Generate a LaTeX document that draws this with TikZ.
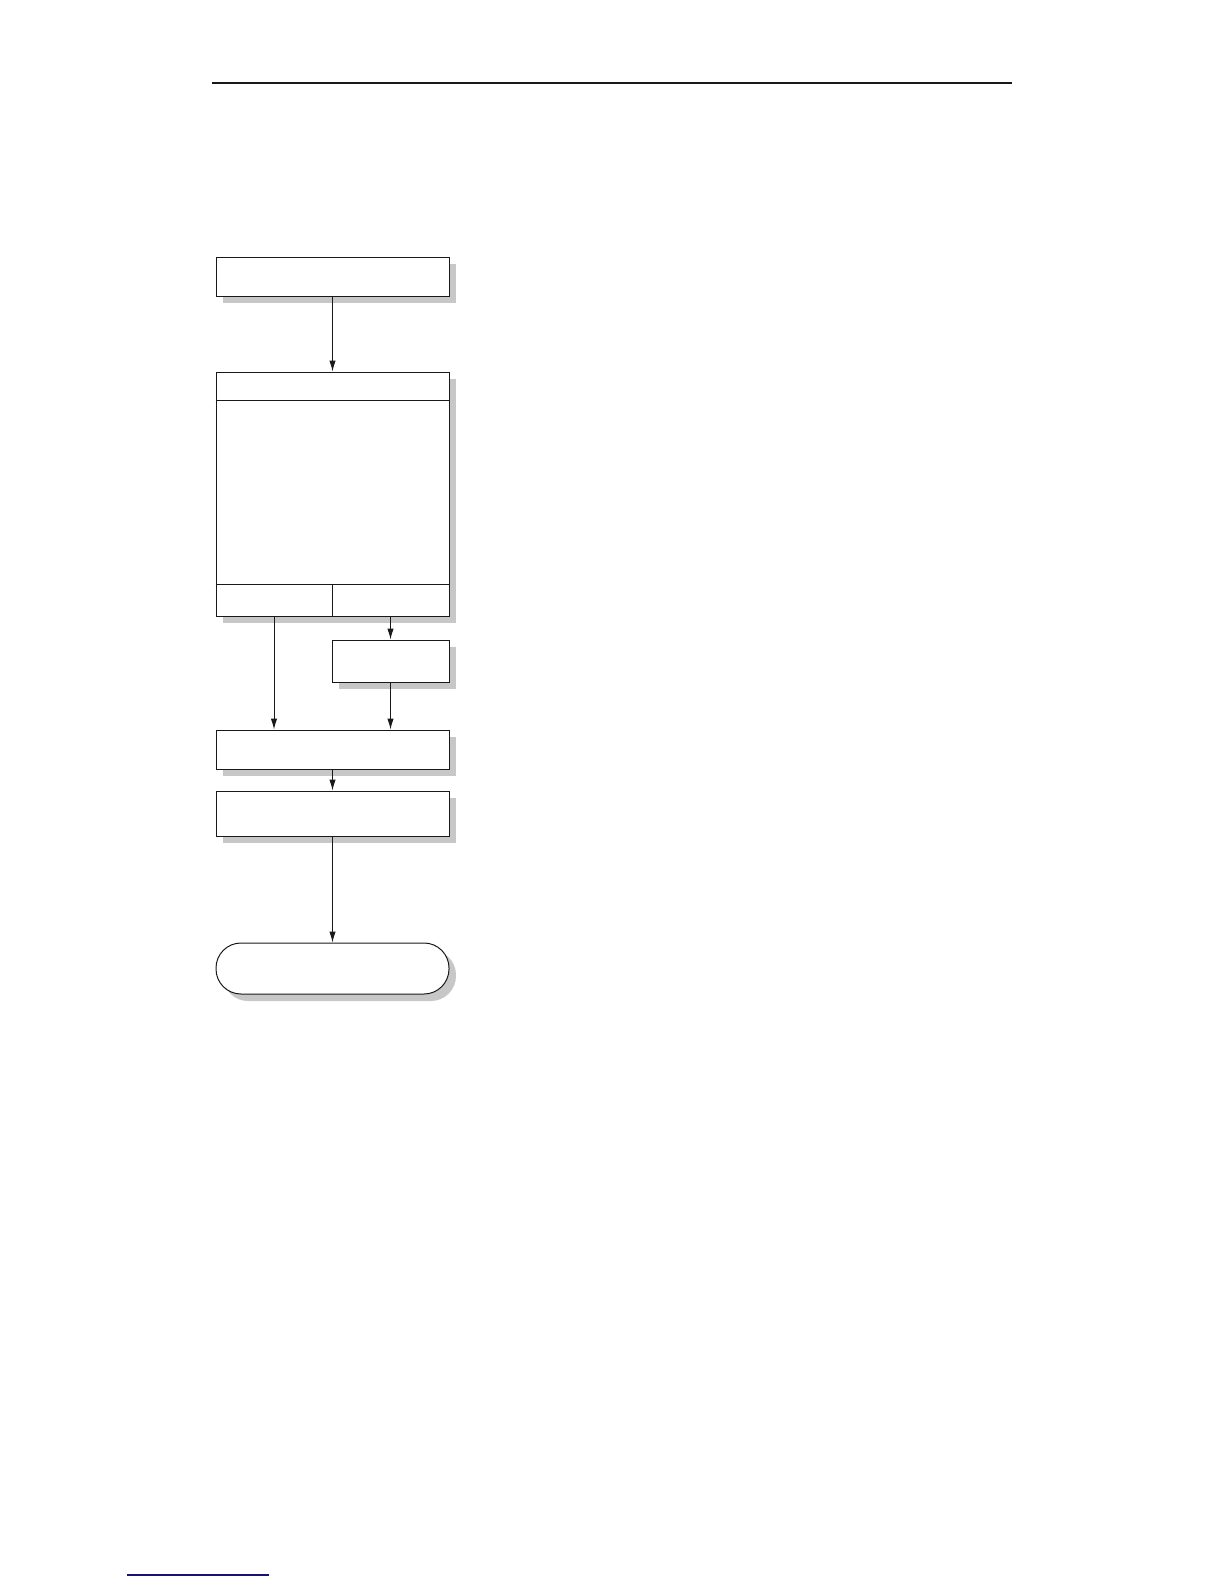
\documentclass[tikz,border=0pt]{standalone}
\usetikzlibrary{arrows.meta,shadows}
\begin{document}
\begin{tikzpicture}[x=1pt,y=-1pt,
  box/.style={draw=black!90, line width=1pt, fill=white, inner sep=0pt,
    drop shadow={shadow xshift=7pt, shadow yshift=-7pt, fill=black!22, opacity=1}},
  arr/.style={draw=black!90, line width=1pt, -{Latex[length=11pt,width=6.5pt]}},
  divider/.style={draw=black!90, line width=1pt},
  rule/.style={draw=black!90, line width=1.3pt}]
\useasboundingbox (0,0) rectangle (1224,1584);
% header rule
\coordinate (hl) at (212,83);
\coordinate (hr) at (1012,83);
\draw[rule] (hl) -- (hr);
% boxes
\node[box, minimum width=233pt, minimum height=39pt] (b1) at (332.5,276.5) {};
\node[box, minimum width=233pt, minimum height=244pt] (b2) at (332.5,494) {};
\node[box, minimum width=117pt, minimum height=42pt] (b3) at (390.5,661) {};
\node[box, minimum width=233pt, minimum height=39pt] (b4) at (332.5,749.5) {};
\node[box, minimum width=233pt, minimum height=45pt] (b5) at (332.5,813.5) {};
\node[box, minimum width=233pt, minimum height=51pt, rounded corners=25pt] (t) at (332.5,968.5) {};
% internal lines of b2
\coordinate (r1) at (0,400);
\coordinate (r2) at (0,584);
\draw[divider] (b2.west |- r1) -- (b2.east |- r1);
\draw[divider] (b2.west |- r2) -- (b2.east |- r2);
\draw[divider] (b2.center |- r2) -- (b2.south);
% connectors
\coordinate (xl) at (274,0);
\draw[arr] (b1) -- (b2);
\draw[arr] (b2.south -| xl) -- (b4.north -| xl);
\draw[arr] (b2.south -| b3) -- (b3);
\draw[arr] (b3) -- (b4.north -| b3);
\draw[arr] (b4) -- (b5);
\draw[arr] (b5) -- (t);
% footer link underline
\coordinate (fl) at (127,1575);
\coordinate (fr) at (269,1575);
\draw[line width=1.5pt, color={rgb,255:red,20;green,20;blue,120}] (fl) -- (fr);
\end{tikzpicture}
\end{document}
